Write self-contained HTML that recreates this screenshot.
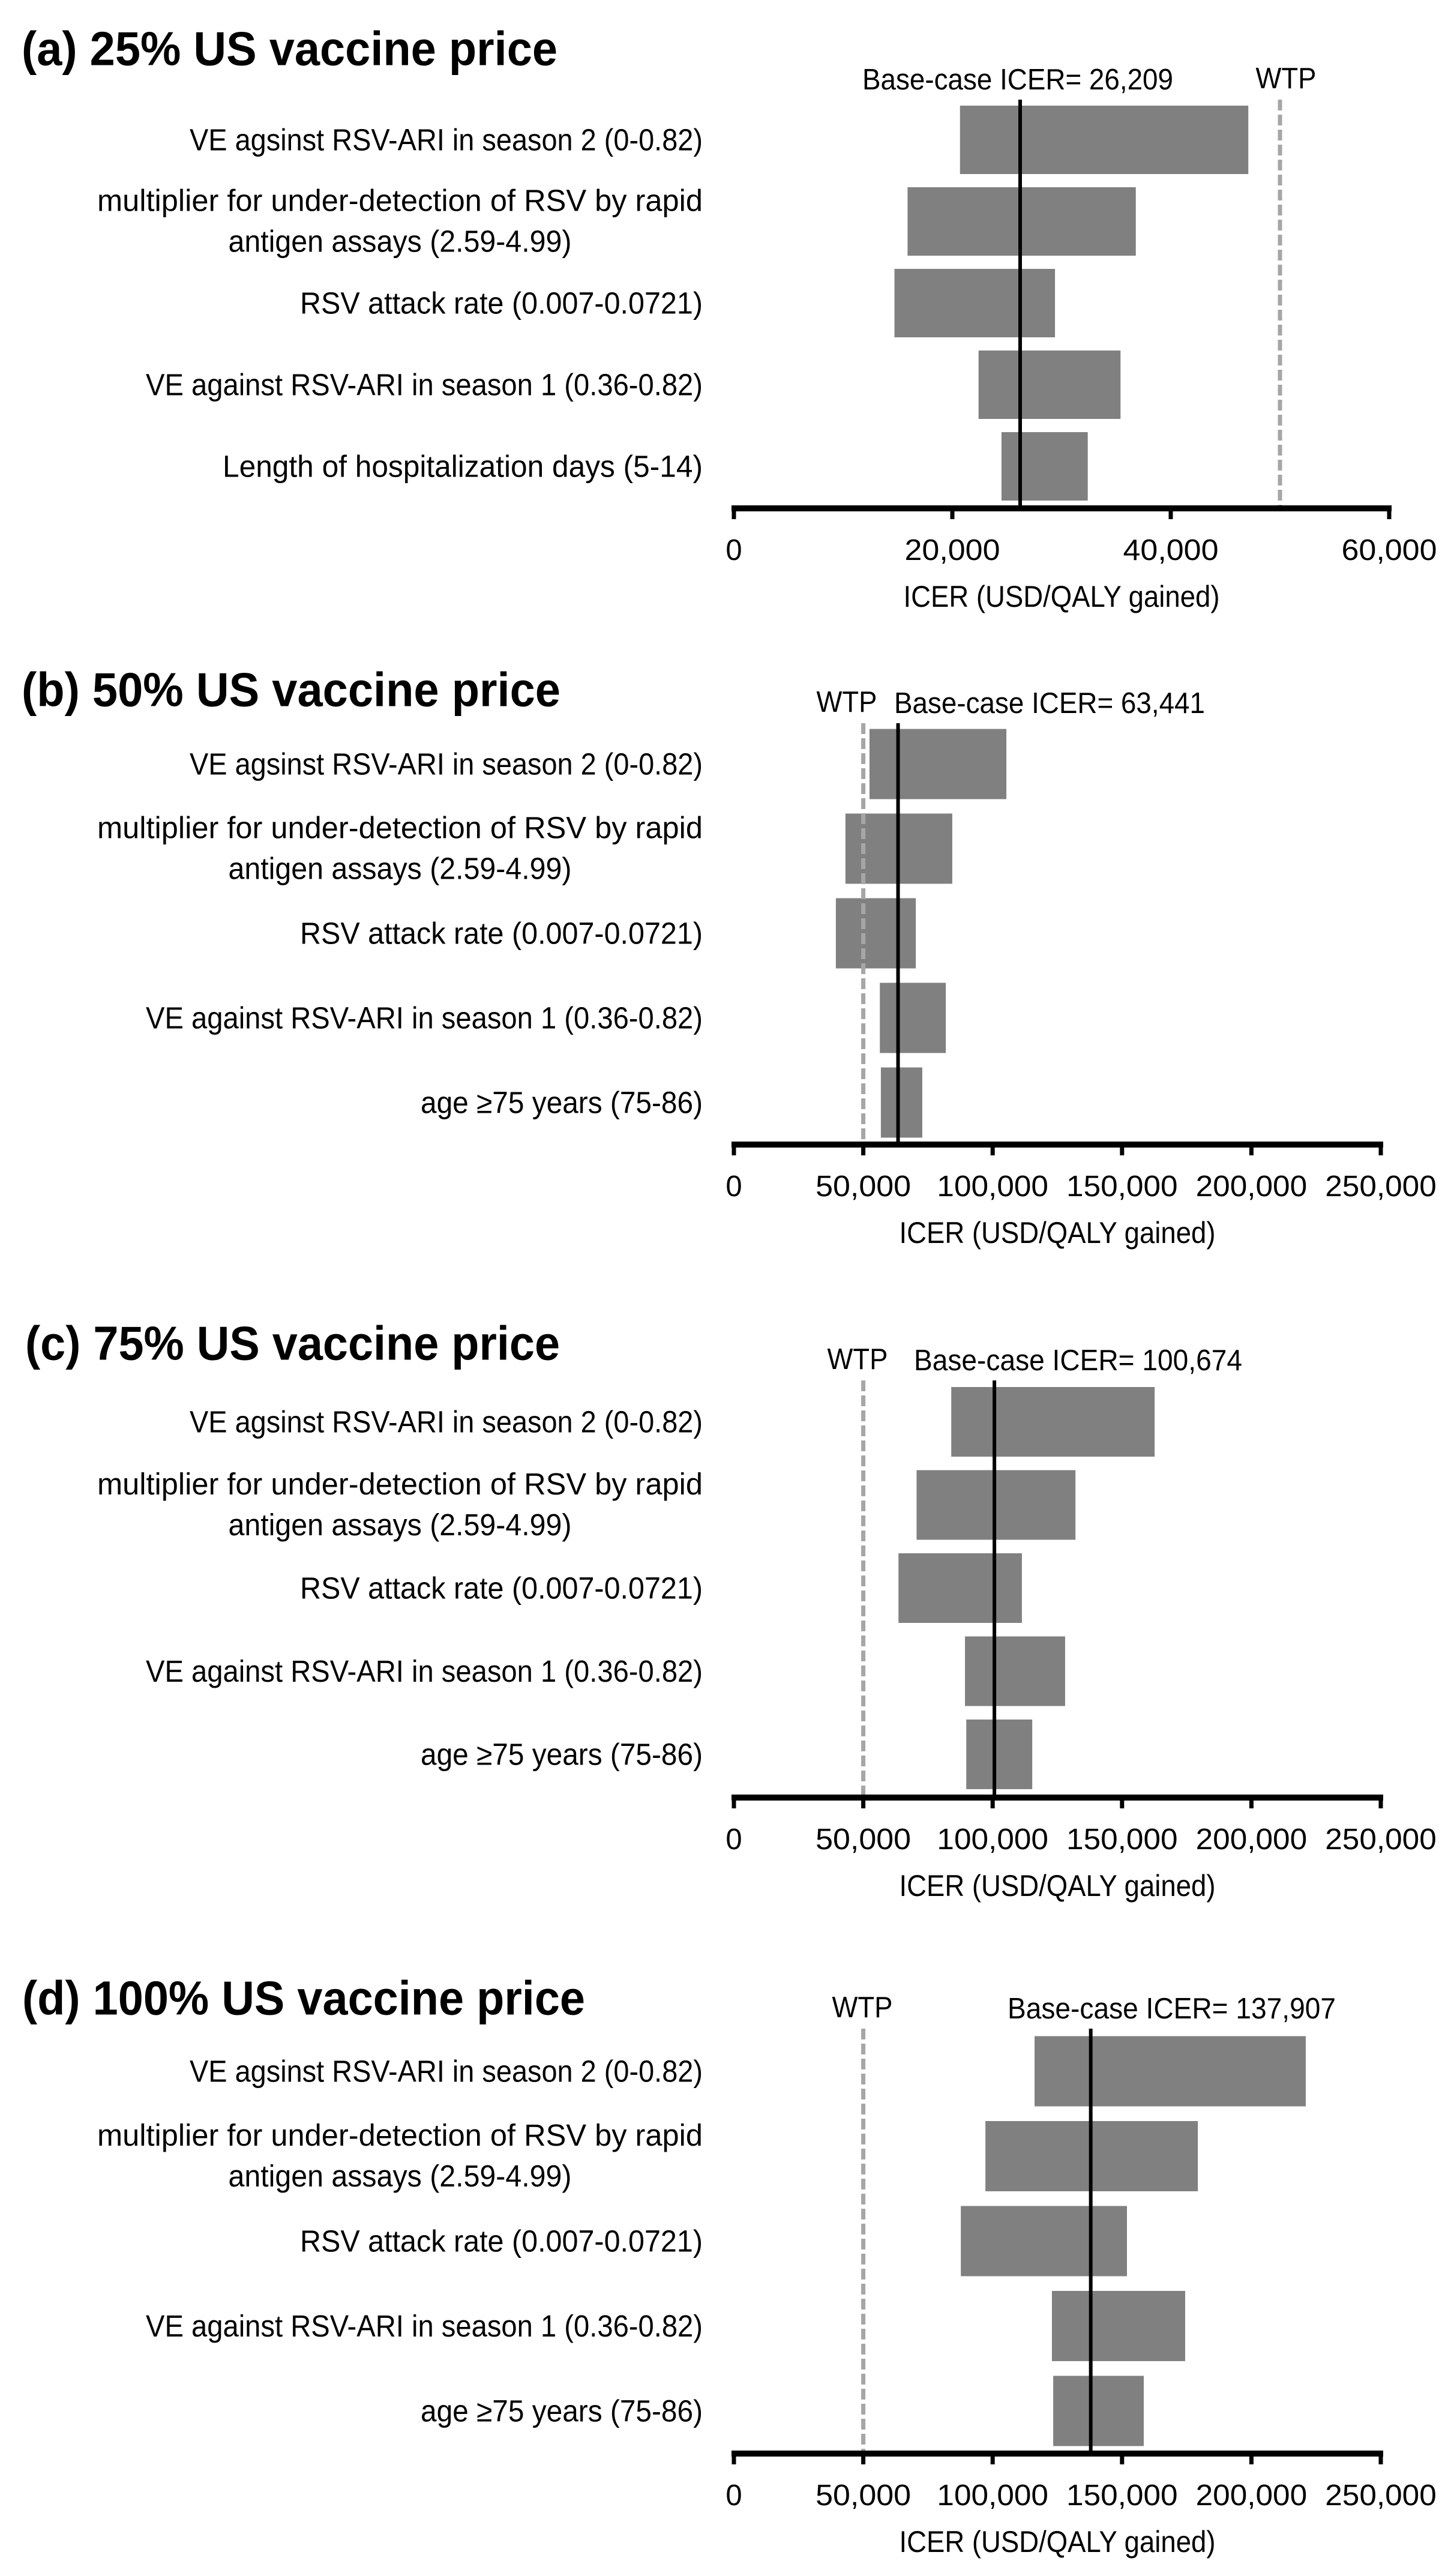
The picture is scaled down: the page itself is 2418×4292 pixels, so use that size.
<!DOCTYPE html>
<html><head><meta charset="utf-8"><style>
html,body{margin:0;padding:0;background:#fff;}
svg{display:block;}
text{font-family:"Liberation Sans",sans-serif;fill:#000;}
</style></head>
<body>
<svg id="fig" width="2418" height="4292" viewBox="0 0 2418 4292" xmlns="http://www.w3.org/2000/svg"></svg>
<script>
// ---- data ----
const titles = ["(a) 25% US vaccine price","(b) 50% US vaccine price","(c) 75% US vaccine price","(d) 100% US vaccine price"];
const labelsA = [["VE agsinst RSV-ARI in season 2 (0-0.82)"],["multiplier for under-detection of RSV by rapid","antigen assays (2.59-4.99)"],["RSV attack rate (0.007-0.0721)"],["VE against RSV-ARI in season 1 (0.36-0.82)"],["Length of hospitalization days (5-14)"]];
const labelsB = [["VE agsinst RSV-ARI in season 2 (0-0.82)"],["multiplier for under-detection of RSV by rapid","antigen assays (2.59-4.99)"],["RSV attack rate (0.007-0.0721)"],["VE against RSV-ARI in season 1 (0.36-0.82)"],["age ≥75 years (75-86)"]];
const lowA = [20700, 15900, 14700, 22400, 24500];
const highA = [47100, 36800, 29400, 35400, 32400];
const lowB = [52400, 43100, 39400, 56400, 56800];
const highB = [105300, 84400, 70300, 81900, 72800];
const lowC = [84000, 70600, 63600, 89300, 89800];
const highC = [162600, 132000, 111300, 128000, 115300];
const lowD = [116200, 97200, 87700, 122900, 123400];
const highD = [221000, 179300, 151900, 174400, 158400];
const baseVals = [26209, 63441, 100674, 137907];
const baseText = ["Base-case ICER= 26,209","Base-case ICER= 63,441","Base-case ICER= 100,674","Base-case ICER= 137,907"];
const wtpVal = 50000;
const ticksA = [0, 20000, 40000, 60000];
const ticksBCD = [0, 50000, 100000, 150000, 200000, 250000];
const axisTitle = "ICER (USD/QALY gained)";

// ---- layout (positions only) ----
const panels = [
 {low:lowA, high:highA, labels:labelsA, ticks:ticksA, max:60000, axisY:847, x1:2315, first:614, pitch:136, bh:114, lineTop:166, titleY:81, titleX:36, titleW:893, baseX:1696, baseAnchor:"middle", baseW:518, wtpX:2143},
 {low:lowB, high:highB, labels:labelsB, ticks:ticksBCD, max:250000, axisY:1907, x1:2301, first:634, pitch:141, bh:117, lineTop:1205, titleY:1149, titleX:36, titleW:898, baseX:1490, baseAnchor:"start", baseW:518, wtpX:1411},
 {low:lowC, high:highC, labels:labelsB, ticks:ticksBCD, max:250000, axisY:2995, x1:2301, first:626, pitch:138.5, bh:116, lineTop:2300, titleY:2238, titleX:42, titleW:891, baseX:1523, baseAnchor:"start", baseW:547, wtpX:1429},
 {low:lowD, high:highD, labels:labelsB, ticks:ticksBCD, max:250000, axisY:4088, x1:2301, first:637, pitch:141.5, bh:117, lineTop:3380, titleY:3329, titleX:37, titleW:938, baseX:1679, baseAnchor:"start", baseW:547, wtpX:1437}
];
const X0 = 1223, LABEL_R = 1171;
const labelW = {"VE agsinst RSV-ARI in season 2 (0-0.82)":855,"multiplier for under-detection of RSV by rapid":1009,"antigen assays (2.59-4.99)":572,"RSV attack rate (0.007-0.0721)":671,"VE against RSV-ARI in season 1 (0.36-0.82)":928,"Length of hospitalization days (5-14)":800,"age ≥75 years (75-86)":470};

const svg = document.getElementById('fig');
const NS = "http://www.w3.org/2000/svg";
function mk(tag, attrs, parent){const e=document.createElementNS(NS,tag);for(const k in attrs)e.setAttribute(k,attrs[k]);(parent||svg).appendChild(e);return e;}

panels.forEach((p, pi) => {
  const g = mk('g', {});
  
  
  const sx = v => X0 + (v / p.max) * (p.x1 - X0);
  const t = mk('text', {x:p.titleX, y:p.titleY, 'dominant-baseline':'central', 'font-size':80, 'font-weight':'bold', textLength:p.titleW, lengthAdjust:'spacingAndGlyphs'}, g);
  t.textContent = titles[pi];
  
  
  p.low.forEach((lo, i) => {
    const cy = p.axisY - p.first + i * p.pitch;
    const r = mk('rect', {x:sx(lo), y:cy - p.bh/2, width:sx(p.high[i]) - sx(lo), height:p.bh, fill:'#808080'}, g);
    
    
    const lines = p.labels[i];
    lines.forEach((ln, li) => {
      const dy = lines.length === 1 ? 0 : (li === 0 ? -35 : 33);
      const isSecond = lines.length > 1 && li === 1;
      const w = labelW[ln] || 600;
      const tx = isSecond ? (LABEL_R - labelW[lines[0]]/2) : LABEL_R;
      const lt = mk('text', {x:tx, y:cy + dy, 'dominant-baseline':'central', 'text-anchor':isSecond?'middle':'end', 'font-size':51, textLength:w, lengthAdjust:'spacingAndGlyphs'}, g);
      lt.textContent = ln;
      
      
    });
  });
  const wl = mk('line', {x1:sx(wtpVal), x2:sx(wtpVal), y1:p.lineTop, y2:p.axisY, stroke:'#a6a6a6', 'stroke-width':7, 'stroke-dasharray':'18 7'}, g);
  
  
  const wt = mk('text', {x:p.wtpX, y:p.lineTop - 35, 'dominant-baseline':'central', 'text-anchor':'middle', 'font-size':49, textLength:101, lengthAdjust:'spacingAndGlyphs'}, g);
  wt.textContent = 'WTP';
  
  
  const bl = mk('line', {x1:sx(baseVals[pi]), x2:sx(baseVals[pi]), y1:p.lineTop, y2:p.axisY, stroke:'#000', 'stroke-width':6}, g);
  
  
  const bt = mk('text', {x:p.baseX, y:p.lineTop - 33, 'dominant-baseline':'central', 'text-anchor':p.baseAnchor, 'font-size':49, textLength:p.baseW, lengthAdjust:'spacingAndGlyphs'}, g);
  bt.textContent = baseText[pi];
  
  
  const ax = mk('line', {x1:X0 - 4, x2:p.x1 + 4, y1:p.axisY, y2:p.axisY, stroke:'#000', 'stroke-width':10}, g);
  
  
  p.ticks.forEach(v => {
    const tk = mk('line', {x1:sx(v), x2:sx(v), y1:p.axisY, y2:p.axisY + 18, stroke:'#000', 'stroke-width':7}, g);
    
    
    const s = v.toLocaleString('en-US');
    const tl = mk('text', {x:sx(v), y:p.axisY + 70, 'dominant-baseline':'central', 'text-anchor':'middle', 'font-size':49}, g);
    if (s.length > 1) { tl.setAttribute('textLength', s.length * 26.5); tl.setAttribute('lengthAdjust', 'spacingAndGlyphs'); }
    tl.textContent = s;
    
    
  });
  const at = mk('text', {x:(X0 + p.x1)/2, y:p.axisY + 147, 'dominant-baseline':'central', 'text-anchor':'middle', 'font-size':50, textLength:527, lengthAdjust:'spacingAndGlyphs'}, g);
  at.textContent = axisTitle;
  
  
});
</script>
</body></html>
